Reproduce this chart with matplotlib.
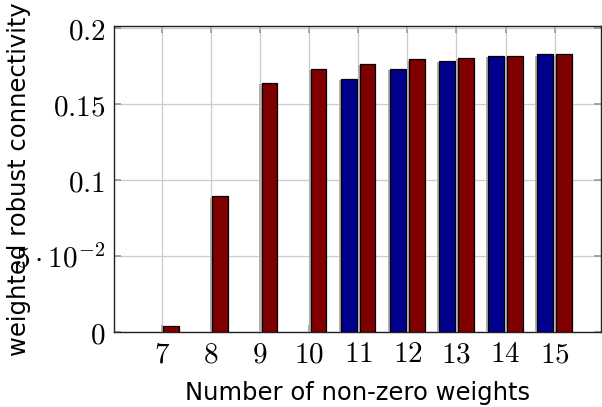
import numpy as np
import matplotlib
matplotlib.use("Agg")
import matplotlib.pyplot as plt
import matplotlib.patheffects as pe

plt.rcParams['mathtext.fontset'] = 'cm'

weights = [7, 8, 9, 10, 11, 12, 13, 14, 15]
blue_vals = [0, 0, 0, 0, 0.1669, 0.1735, 0.1788, 0.1819, 0.1828]
red_vals = [0.004, 0.0894, 0.1642, 0.1735, 0.1768, 0.1795, 0.1806, 0.1819, 0.1828]
yticks = [0, 0.05, 0.1, 0.15, 0.2]
ytick_labels = [r'$0$', r'$5\cdot10^{-2}$', r'$0.1$', r'$0.15$', r'$0.2$']

fig = plt.figure(figsize=(6.02, 4.07), dpi=100)
ax = fig.add_axes([0.189, 0.184, 0.809, 0.752])

x = np.array(weights)
w = 0.32
off = 0.19
shadow = [pe.SimplePatchShadow(offset=(-1.5, -1), shadow_rgbFace='#b0b0b0', alpha=1), pe.Normal()]
b1 = ax.bar(x - off, blue_vals, w, color='#00008c', edgecolor='black', linewidth=0.9, zorder=3)
b2 = ax.bar(x + off, red_vals, w, color='#800000', edgecolor='black', linewidth=0.9, zorder=3)
for p in list(b1) + list(b2):
    if p.get_height() > 0:
        p.set_path_effects(shadow)
    else:
        p.set_visible(False)

ax.set_xlim(6.02, 15.94)
ax.set_ylim(0, 0.2015)
ax.set_xticks(weights)
ax.set_xticklabels([r'$%d$' % v for v in weights])
ax.set_yticks(yticks)
ax.set_yticklabels(ytick_labels)
ax.tick_params(labelsize=21, direction='in', color='#999999', length=5, width=1.2,
               right=True, top=True, pad=6)
ax.grid(True, color='#cccccc', linewidth=0.9, zorder=0)
ax.set_axisbelow(True)
for s in ax.spines.values():
    s.set_color('#222222')
    s.set_linewidth(1.0)

ax.set_xlabel('Number of non-zero weights', fontsize=17.5, labelpad=9)
ax.set_ylabel('weighted robust connectivity', fontsize=17.5)
ax.yaxis.set_label_coords(-0.17, 0.50)

fig.savefig('out.png', dpi=100)
